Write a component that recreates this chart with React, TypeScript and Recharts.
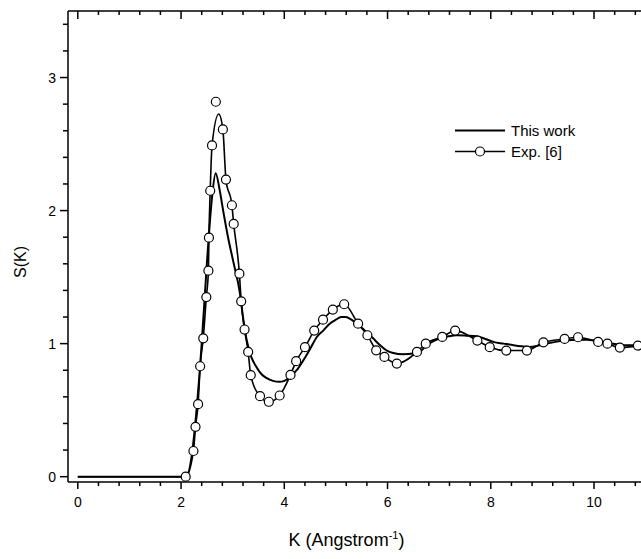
import {
  ComposedChart,
  Line,
  Scatter,
  XAxis,
  YAxis,
  Legend,
} from 'recharts';

// S(K) calculated in this work (K in 1/Angstrom)
const workK = [
  0, 2.1, 2.2, 2.3, 2.4, 2.5, 2.6, 2.67, 2.75, 2.82, 2.91, 3.01, 3.14, 3.2, 3.27, 3.36, 3.46,
  3.56, 3.66, 3.78, 3.9, 4.0, 4.11, 4.24, 4.37, 4.5, 4.63, 4.76, 4.88, 5.0, 5.1, 5.19, 5.3,
  5.4, 5.5, 5.59, 5.72, 5.85, 5.98, 6.11, 6.3, 6.5, 6.63, 6.76, 6.9, 7.02, 7.18, 7.34, 7.53,
  7.73, 7.9, 8.05, 8.25, 8.44, 8.6, 8.76, 8.92, 9.08, 9.28, 9.47, 9.66, 9.86, 10.05, 10.25,
  10.45, 10.63, 10.9,
];
const workS = [
  0, 0, 0.14, 0.5, 1.0, 1.6, 2.1, 2.28, 2.15, 1.99, 1.8, 1.62, 1.38, 1.2, 1.03, 0.9, 0.825,
  0.77, 0.74, 0.72, 0.713, 0.72, 0.75, 0.8, 0.875, 0.96, 1.05, 1.1, 1.15, 1.18, 1.2, 1.2, 1.18,
  1.15, 1.12, 1.088, 1.04, 0.99, 0.95, 0.93, 0.92, 0.925, 0.94, 0.99, 1.02, 1.04, 1.055, 1.063,
  1.06, 1.055, 1.035, 1.013, 1.0, 0.988, 0.98, 0.975, 0.985, 1.0, 1.015, 1.025, 1.03, 1.03, 1.02,
  1.005, 0.995, 0.988, 0.988,
];

// experimental curve, Exp. [6]
const expCurveK = [
  0, 2.09, 2.24, 2.28, 2.33, 2.37, 2.43, 2.49, 2.53, 2.54, 2.565, 2.6, 2.73, 2.81, 2.87, 2.985,
  3.02, 3.13, 3.165, 3.23, 3.3, 3.35, 3.53, 3.7, 3.91, 4.12, 4.23, 4.4, 4.58, 4.75, 4.94, 5.16,
  5.43, 5.61, 5.78, 5.94, 6.18, 6.57, 6.74, 7.06, 7.31, 7.74, 7.98, 8.3, 8.7, 9.02, 9.43, 9.69,
  10.08, 10.26, 10.5, 10.85,
];
const expCurveS = [
  0, 0, 0.193, 0.375, 0.545, 0.83, 1.04, 1.35, 1.548, 1.796, 2.149, 2.49, 2.726, 2.61, 2.233,
  2.04, 1.9, 1.526, 1.318, 1.106, 0.938, 0.763, 0.605, 0.563, 0.61, 0.765, 0.868, 0.973, 1.098,
  1.18, 1.256, 1.296, 1.15, 1.063, 0.95, 0.9, 0.85, 0.938, 1.0, 1.05, 1.098, 1.023, 0.973, 0.948,
  0.948, 1.01, 1.035, 1.048, 1.013, 1.0, 0.97, 0.985,
];

// experimental symbols
const expK = [
  2.09, 2.24, 2.28, 2.33, 2.37, 2.43, 2.49, 2.53, 2.54, 2.565, 2.6, 2.674, 2.81, 2.87, 2.985,
  3.02, 3.13, 3.165, 3.23, 3.3, 3.35, 3.53, 3.7, 3.91, 4.12, 4.23, 4.4, 4.58, 4.75, 4.94, 5.16,
  5.43, 5.61, 5.78, 5.94, 6.18, 6.57, 6.74, 7.06, 7.31, 7.74, 7.98, 8.3, 8.7, 9.02, 9.43, 9.69,
  10.08, 10.26, 10.5, 10.85,
];
const expS = [
  0, 0.193, 0.375, 0.545, 0.83, 1.04, 1.35, 1.548, 1.796, 2.149, 2.49, 2.818, 2.61, 2.233, 2.04,
  1.9, 1.526, 1.318, 1.106, 0.938, 0.763, 0.605, 0.563, 0.61, 0.765, 0.868, 0.973, 1.098, 1.18,
  1.256, 1.296, 1.15, 1.063, 0.95, 0.9, 0.85, 0.938, 1.0, 1.05, 1.098, 1.023, 0.973, 0.948,
  0.948, 1.01, 1.035, 1.048, 1.013, 1.0, 0.97, 0.985,
];

const xMajorTicks = [0, 2, 4, 6, 8, 10];
const xMinorTicks = [
  0.4, 0.8, 1.2, 1.6, 2.4, 2.8, 3.2, 3.6, 4.4, 4.8, 5.2, 5.6, 6.4, 6.8, 7.2, 7.6, 8.4, 8.8, 9.2,
  9.6, 10.4, 10.8,
];
const yMajorTicks = [0, 1, 2, 3];
const yMinorTicks = [0.2, 0.4, 0.6, 0.8, 1.2, 1.4, 1.6, 1.8, 2.2, 2.4, 2.6, 2.8, 3.2, 3.4];

const workData = workK.map((k, i) => ({ k, s: workS[i] }));
const expCurveData = expCurveK.map((k, i) => ({ k, s: expCurveS[i] }));
const expData = expK.map((k, i) => ({ k, s: expS[i] }));

const xTicks = [...xMajorTicks, ...xMinorTicks].sort((a, b) => a - b);
const yTicks = [...yMajorTicks, ...yMinorTicks].sort((a, b) => a - b);

const FONT = '"Liberation Sans", Arial, sans-serif';
const INK = '#000';

const isIn = (arr: number[], v: number) => arr.some((t) => Math.abs(t - v) < 1e-6);

function BottomTick({ x, y, payload }: any) {
  const major = isIn(xMajorTicks, payload.value);
  return (
    <g>
      <line x1={x} x2={x} y1={y} y2={y + (major ? 7 : 4)} stroke={INK} strokeWidth={1.5} />
      {major ? (
        <text x={x} y={y + 25} textAnchor="middle" fontFamily={FONT} fontSize={14} fill={INK}>
          {payload.value}
        </text>
      ) : null}
    </g>
  );
}

function TopTick({ x, y, payload }: any) {
  const major = isIn(xMajorTicks, payload.value);
  return <line x1={x} x2={x} y1={y} y2={y + (major ? 8 : 4)} stroke={INK} strokeWidth={1.5} />;
}

function LeftTick({ x, y, payload }: any) {
  const major = isIn(yMajorTicks, payload.value);
  return (
    <g>
      <line x1={x} x2={x - (major ? 8 : 5)} y1={y} y2={y} stroke={INK} strokeWidth={1.5} />
      {major ? (
        <text x={x - 12} y={y + 5} textAnchor="end" fontFamily={FONT} fontSize={14} fill={INK}>
          {payload.value}
        </text>
      ) : null}
    </g>
  );
}

function XLabel({ viewBox }: any) {
  const cx = viewBox.x + viewBox.width / 2 - 8;
  return (
    <text x={cx} y={viewBox.y + 64} textAnchor="middle" fontFamily={FONT} fontSize={18} fill={INK}>
      K (Angstrom
      <tspan dy={-7} fontSize={11}>
        -1
      </tspan>
      <tspan dy={7}>)</tspan>
    </text>
  );
}

function YLabel() {
  const cy = 262;
  const cx = 20;
  return (
    <text
      x={cx}
      y={cy}
      transform={`rotate(-90 ${cx} ${cy})`}
      textAnchor="middle"
      fontFamily={FONT}
      fontSize={16}
      fill={INK}
      dominantBaseline="central"
    >
      S(K)
    </text>
  );
}

function ChartLegend() {
  const row = { display: 'flex', alignItems: 'center', height: 21 } as const;
  return (
    <div style={{ fontFamily: FONT, fontSize: 15, color: INK, lineHeight: 1 }}>
      <div style={row}>
        <svg width={56} height={21}>
          <line x1={3} x2={53} y1={10.5} y2={10.5} stroke={INK} strokeWidth={2} />
        </svg>
        <span style={{ marginLeft: 3 }}>This work</span>
      </div>
      <div style={row}>
        <svg width={56} height={21}>
          <line x1={3} x2={53} y1={10.5} y2={10.5} stroke={INK} strokeWidth={1.5} />
          <circle cx={28} cy={10.5} r={4.5} fill="#fff" stroke={INK} strokeWidth={1.2} />
        </svg>
        <span style={{ marginLeft: 3 }}>Exp. [6]</span>
      </div>
    </div>
  );
}

export default function App() {
  return (
    <div style={{ position: 'absolute', left: 0, top: 0, width: 641, height: 559, background: '#fff' }}>
      <ComposedChart width={641} height={559} margin={{ top: 10, right: 0, bottom: 0, left: 0 }}>
        <XAxis
          xAxisId="bottom"
          dataKey="k"
          type="number"
          domain={[-0.19, 10.91]}
          ticks={xTicks}
          tick={<BottomTick />}
          tickLine={false}
          tickSize={0}
          tickMargin={0}
          interval={0}
          height={77}
          axisLine={{ stroke: INK, strokeWidth: 1.5 }}
          allowDataOverflow
          label={<XLabel />}
        />
        <XAxis
          xAxisId="top"
          orientation="top"
          dataKey="k"
          type="number"
          domain={[-0.19, 10.91]}
          ticks={xTicks}
          tick={<TopTick />}
          tickLine={false}
          tickSize={0}
          tickMargin={0}
          interval={0}
          height={1}
          axisLine={{ stroke: INK, strokeWidth: 1.5 }}
          allowDataOverflow
        />
        <YAxis
          dataKey="s"
          type="number"
          domain={[-0.04, 3.5]}
          ticks={yTicks}
          tick={<LeftTick />}
          tickLine={false}
          tickSize={0}
          tickMargin={0}
          interval={0}
          width={68}
          axisLine={{ stroke: INK, strokeWidth: 1.5 }}
          allowDataOverflow
          label={<YLabel />}
        />
        <Legend
          layout="horizontal"
          verticalAlign="middle"
          align="center"
          content={<ChartLegend />}
          wrapperStyle={{ position: 'absolute', left: 452, top: 120, width: 150, height: 42 }}
        />
        <Line
          xAxisId="bottom"
          data={workData}
          dataKey="s"
          type="monotone"
          stroke={INK}
          strokeWidth={2}
          dot={false}
          activeDot={false}
          isAnimationActive={false}
        />
        <Line
          xAxisId="bottom"
          data={expCurveData}
          dataKey="s"
          type="monotone"
          stroke={INK}
          strokeWidth={1.6}
          dot={false}
          activeDot={false}
          isAnimationActive={false}
        />
        <Scatter
          xAxisId="bottom"
          data={expData}
          dataKey="s"
          fill="#fff"
          stroke={INK}
          strokeWidth={1.2}
          shape={(p: any) => (
            <circle cx={p.cx} cy={p.cy} r={4.5} fill="#fff" stroke={INK} strokeWidth={1.2} />
          )}
          isAnimationActive={false}
        />
      </ComposedChart>
    </div>
  );
}
